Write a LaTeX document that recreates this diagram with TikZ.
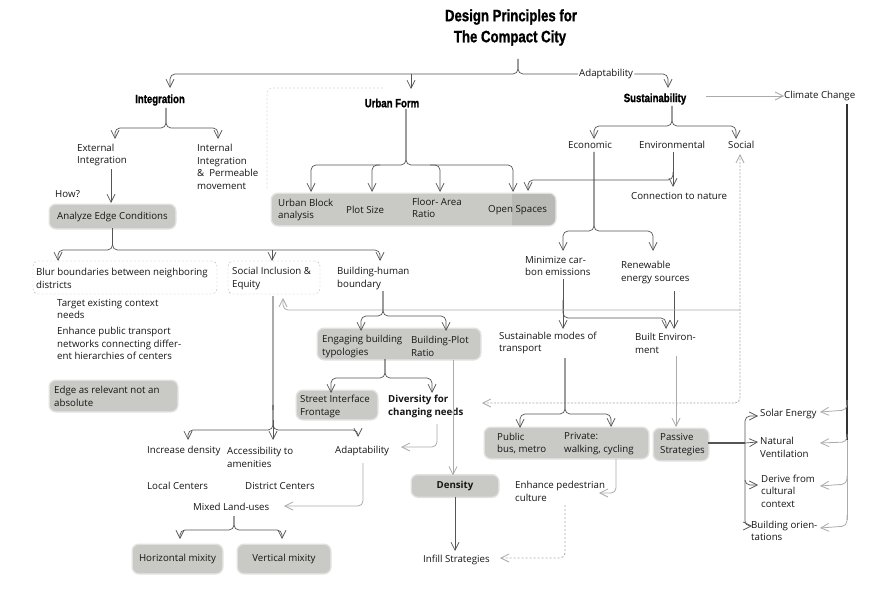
\documentclass[tikz,border=0pt]{standalone}
\usepackage{fontspec}
\setmainfont{Open Sans}
\newfontfamily\headf[FakeStretch=0.8,BoldFeatures={FakeBold=1.2}]{Liberation Sans}
\usetikzlibrary{arrows.meta}
\definecolor{boxgray}{HTML}{C9C9C5}
\definecolor{boxdark}{HTML}{B9B9B5}
\definecolor{linec}{HTML}{555555}
\definecolor{lightl}{HTML}{ABABAB}
\definecolor{txtc}{HTML}{161616}
\newcommand{\bodyfont}{\fontsize{9.7}{12.5}\selectfont}
\begin{document}
\begin{tikzpicture}[x=1pt,y=-1pt,
  txt/.style={font=\bodyfont, text=txtc, align=left, inner sep=0pt, anchor=west},
  btxt/.style={txt, font=\bodyfont\bfseries},
  hd/.style={font=\headf\bfseries\fontsize{12}{14}\selectfont, text=black, inner sep=0pt},
  ttl/.style={font=\headf\bfseries\fontsize{16.5}{18}\selectfont, text=black, inner sep=0pt},
  gbox/.style={fill=boxgray, rounded corners=6pt, font=\bodyfont, text=txtc, inner sep=2pt, align=center,
     preaction={draw=boxgray!55, line width=3pt}},
  dbox/.style={draw=black!28, dash pattern=on 2pt off 2pt, rounded corners=5pt, inner sep=0pt},
  con/.style={draw=linec, line width=0.7pt},
  arr/.style={con, -{Straight Barb[length=8pt,width=8pt]}},
  gl/.style={draw=lightl, line width=0.8pt},
  garr/.style={gl, -{Straight Barb[length=8pt,width=8pt]}},
  rc/.style={rounded corners=5pt}]
\useasboundingbox (0,0) rectangle (886,591);
\fill[white] (0,0) rectangle (886,591);

% ---------- boxes ----------
\node[gbox, minimum width=283, minimum height=31] (ubox) at (413.5,209.5) {};
\begin{scope}
\clip[rounded corners=6pt] (272,194) rectangle (555,225);
\fill[boxdark] (512,192) rectangle (557,227);
\end{scope}
\node[dbox, minimum width=184, minimum height=33] (blurb) at (125,277.5) {};
\node[dbox, minimum width=92, minimum height=33] (sieb) at (274,277.5) {};
\node[gbox, minimum width=127, minimum height=30] (earb) at (113.5,396) {};
\node[gbox, minimum width=162, minimum height=30] (ebox) at (399,344) {};
\node[gbox, minimum width=80, minimum height=28] (sifb) at (337,405) {};
\node[gbox, minimum width=163, minimum height=30] (pbox) at (566.5,443) {};
\node[gbox, minimum width=54, minimum height=31] (pasb) at (681,444.5) {};

% ---------- titles / headers ----------
\node[ttl] (t1) at (511,17) {Design Principles for};
\node[ttl] (t2) at (510,38) {The Compact City};
\node[hd] (integ) at (160,100) {Integration};
\node[hd] (uform) at (392,103) {Urban Form};
\node[hd] (sust) at (655,99) {Sustainability};
\node[txt, inner sep=1pt] (adapt0) at (578,74) {Adaptability};
\node[txt] (climate) at (784,96) {Climate Change};

% ---------- texts ----------
\node[txt] (extI) at (77,155) {External\\Integration};
\node[txt] (intI) at (197,167) {Internal\\Integration\\\&~~Permeable\\movement};
\node[txt] (how) at (55,194) {How?};
\node[gbox, minimum width=125, minimum height=23] (aec) at (112.5,216.5) {Analyze Edge Conditions};
\node[txt] (econ) at (568,145) {Economic};
\node[txt] (env) at (639,145) {Environmental};
\node[txt] (social) at (728,145) {Social};
\node[txt] (ub) at (278,210) {Urban Block\\analysis};
\node[txt] (ps) at (346,210) {Plot Size};
\node[txt] (far) at (412,208) {Floor- Area\\Ratio};
\node[txt] (os) at (488,210) {Open Spaces};
\node[txt] (cnat) at (631,196) {Connection to nature};
\node[txt] (minc) at (525,266) {Minimize car-\\bon emissions};
\node[txt] (renew) at (621,272.5) {Renewable\\energy sources};
\node[txt] (blur) at (36,278.5) {Blur boundaries between neighboring\\districts};
\node[txt] (sie) at (232,278.5) {Social Inclusion \&\\Equity};
\node[txt] (bhb) at (337,278.5) {Building-human\\boundary};
\node[txt] (tec) at (57,309) {Target existing context\\needs};
\node[txt] (ept) at (57,343.5) {Enhance public transport\\networks connecting differ-\\ent hierarchies of centers};
\node[txt] (ear) at (54,396.5) {Edge as relevant not an\\absolute};
\node[txt] (ebt) at (322,346.5) {Engaging building\\typologies};
\node[txt] (bpr) at (411,346.5) {Building-Plot\\Ratio};
\node[txt] (smt) at (499,343) {Sustainable modes of\\transport};
\node[txt] (benv) at (635,343.5) {Built Environ-\\ment};
\node[txt] (sif) at (300,406.5) {Street Interface\\Frontage};
\node[btxt] (dcn) at (388,406.5) {Diversity for\\changing needs};
\node[txt] (pub) at (497,443.5) {Public\\bus, metro};
\node[txt] (priv) at (564,443.5) {Private:\\walking, cycling};
\node[txt] (pas) at (660,444.5) {Passive\\Strategies};
\node[txt] (solar) at (760,414) {Solar Energy};
\node[txt] (natv) at (760,447.5) {Natural\\Ventilation};
\node[txt] (dcc) at (761,491) {Derive from\\cultural\\context};
\node[txt] (bor) at (751,531) {Building orien-\\tations};
\node[txt] (incd) at (147,451) {Increase density};
\node[txt] (acc) at (227,457.5) {Accessibility to\\amenities};
\node[txt] (adapt2) at (335,451) {Adaptability};
\node[txt] (lc) at (147,486) {Local Centers};
\node[txt] (dc) at (245,486) {District Centers};
\node[txt] (mlu) at (193,507) {Mixed Land-uses};
\node[gbox, minimum width=86, minimum height=21, font=\bodyfont\bfseries] (dens) at (455,486) {Density};
\node[txt] (epc) at (515,491.5) {Enhance pedestrian\\culture};
\node[gbox, minimum width=89, minimum height=28] (hm) at (177.5,559) {Horizontal mixity};
\node[gbox, minimum width=92, minimum height=28] (vm) at (284,559) {Vertical mixity};
\node[txt] (infill) at (423,560) {Infill Strategies};

% ---------- connectors ----------
\coordinate (br) at (518,59);
\draw[arr,rc] (br) -- (518,74) -- (170,74) -- (170,88);
\draw[con,rc] (br) -- (518,74) -- (adapt0.west);
\draw[arr,rc] (adapt0.east) -- (668,74) -- (668,88);
\draw[arr] (411,74) -- (411,89);
\draw[draw=black!15, line width=0.6pt, dash pattern=on 2pt off 2pt, rc] (383,88) -- (267,88) -- (267,190);

% Integration
\draw[arr,rc] (166,108) -- (166,128) -- (115,128) -- (115,139);
\draw[arr,rc] (166,108) -- (166,128) -- (218,128) -- (218,139);
\draw[arr] (111,169) -- (111,203);
% Analyze edge
\draw[arr,rc] (aec.south) -- (112.5,250) -- (58,250) -- (58,261);
\draw[arr,rc] (aec.south) -- (112.5,250) -- (380,250) -- (380,261);
\draw[arr] (272,250) -- (272,261);

% Urban form
\draw[arr,rc] (406,109) -- (406,165) -- (311,165) -- (311,192);
\draw[arr,rc] (406,109) -- (406,165) -- (513,165) -- (513,192);
\draw[arr,rc] (380,165) -- (372,165) -- (372,192);
\draw[arr,rc] (430,165) -- (440,165) -- (440,192);

% Sustainability
\draw[arr,rc] (672,106) -- (672,126) -- (594,126) -- (594,139);
\draw[arr,rc] (672,106) -- (672,126) -- (736,126) -- (736,139);
\draw[garr] (706,96) -- (climate.west);
\draw[arr] (673,152) -- (673,187);
\draw[arr,rc] (673,172) -- (673,180) -- (528,180) -- (528,191);
\draw[arr,rc] (594,152) -- (594,231) -- (653,231) -- (653,251);
\draw[arr,rc] (594,152) -- (594,231) -- (563,231) -- (563,251);
\draw[arr] (563,279) -- (563,329);
\draw[arr,rc] (563,300) -- (563,318) -- (666,318) -- (666,329);
\draw[arr] (674,291) -- (674,329);

% Social loop
\draw[gl, dash pattern=on 2pt off 1.5pt, rc, {Straight Barb[length=8pt,width=8pt]}-{Straight Barb[length=8pt,width=8pt]}] (482,403) -- (740,403) -- (740,154);
\draw[garr,rc] (740,310) -- (283,310) -- (283,298);

% Building-human boundary
\draw[arr,rc] (383,291) -- (383,316) -- (361,316) -- (361,331);
\draw[arr,rc] (383,291) -- (383,316) -- (446,316) -- (446,331);
\draw[arr,rc] (385,359) -- (385,378) -- (331,378) -- (331,393);
\draw[arr,rc] (385,359) -- (385,378) -- (432,378) -- (432,393);
\draw[garr] (453,360) -- (dens.north -| 453,0);
\draw[arr] (dens.south) -- (455,551);
\draw[garr,rc] (437,424) -- (437,447) -- (401,447);
\draw[garr,rc] (363,463) -- (363,506) -- (284,506);

% Social inclusion branch
\draw[gl, line width=1.6pt] (273,296) -- (273,410);
\draw[arr,rc] (273,405) -- (273,430) -- (188,430) -- (188,440);
\draw[arr,rc] (273,405) -- (273,430) -- (358,430) -- (358,437);
\draw[arr] (273,420) -- (273,440);

% Mixed land-uses
\draw[arr,rc] (234,516) -- (234,530) -- (180,530) -- (180,539);
\draw[arr,rc] (234,516) -- (234,530) -- (282,530) -- (282,539);

% Sustainable modes
\draw[arr,rc] (565,358) -- (565,414) -- (520,414) -- (520,428);
\draw[arr,rc] (565,358) -- (565,414) -- (611,414) -- (611,427);
\draw[garr] (676,356) -- (676,427);
\draw[garr,rc] (616,459) -- (616,493) -- (599,493);
\draw[gl, dash pattern=on 2pt off 2pt, rc, -{Straight Barb[length=8pt,width=8pt]}] (565,505) -- (565,558) -- (500,558);

% Passive strategies
\draw[con, line width=1.4pt] (pasb.east |- 0,443) -- (745,443);
\draw[arr,rc] (745,443) -- (745,416) -- (758,416);
\draw[arr] (745,443) -- (758,442);
\draw[arr,rc] (745,443) -- (745,485) -- (758,485);
\draw[arr,rc] (745,480) -- (745,526) -- (752,526);

% Climate change column
\draw[con, line width=1.3pt, draw=black!80] (847,104) -- (847,440);
\draw[gl, line width=1.0pt] (847,440) -- (847,520);
\draw[garr,rc] (847,400) -- (847,410) -- (820,412);
\draw[garr,rc] (847,434) -- (847,442) -- (820,443);
\draw[garr,rc] (847,476) -- (847,484) -- (820,486);
\draw[garr,rc] (847,515) -- (847,526) -- (820,528);
\end{tikzpicture}
\end{document}
